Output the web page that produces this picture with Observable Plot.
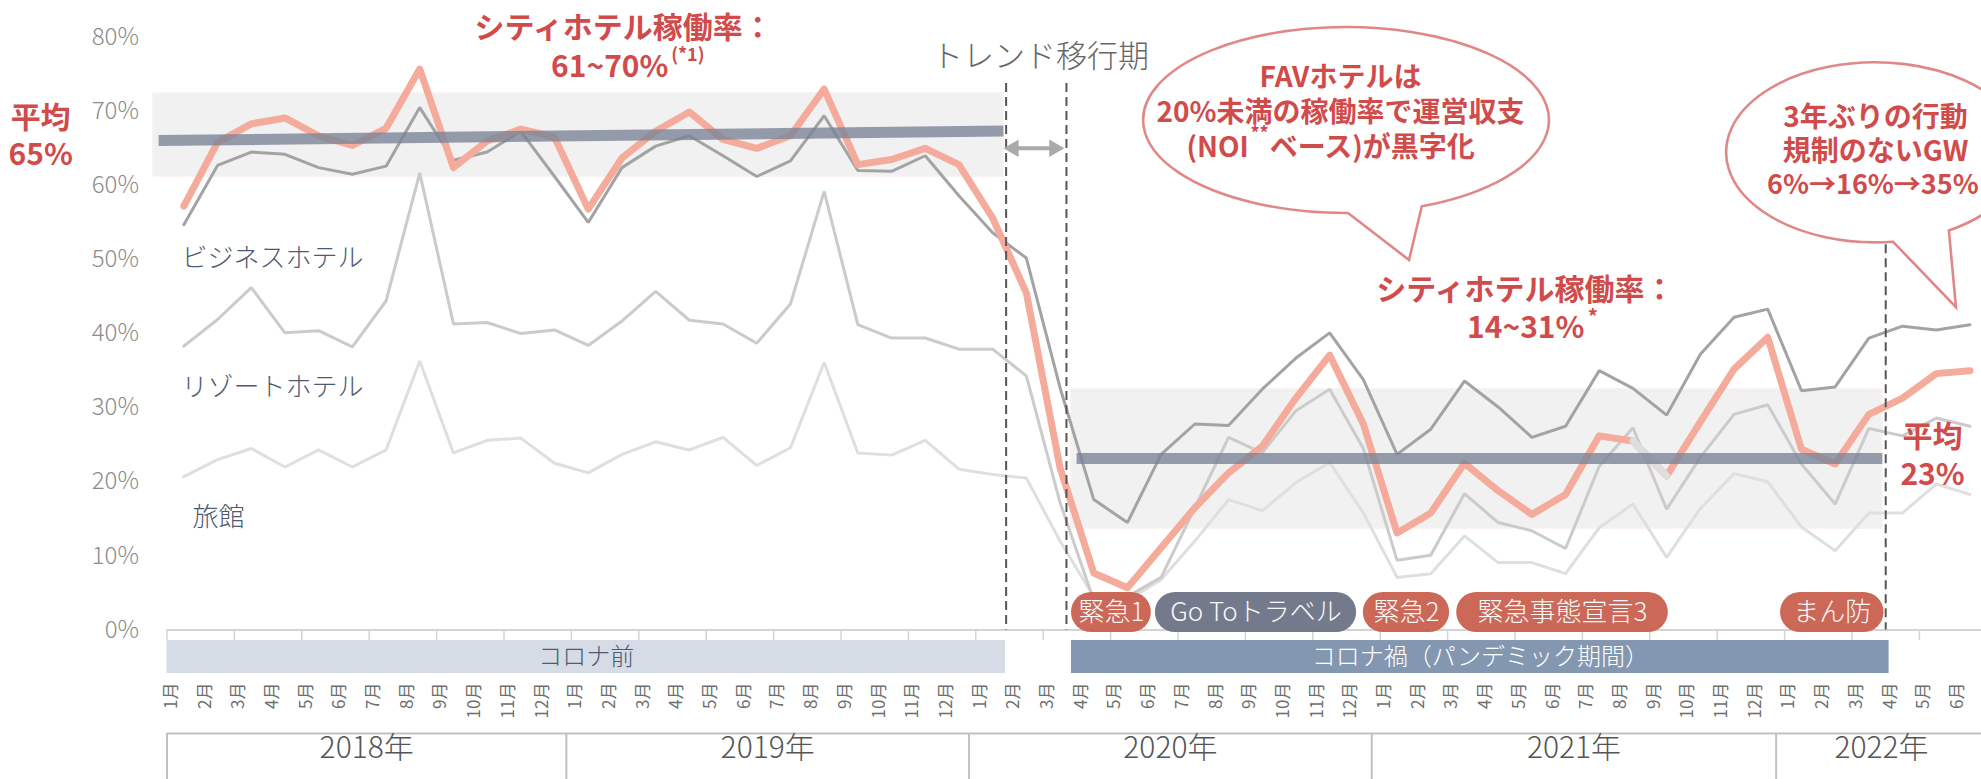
<!DOCTYPE html>
<html><head><meta charset="utf-8">
<script src="https://cdn.jsdelivr.net/npm/d3@7"></script>
<script src="https://cdn.jsdelivr.net/npm/@observablehq/plot@0.6"></script>
<style>
html,body{margin:0;padding:0;background:#fff;}
#chart svg{display:block;}
</style></head><body><div id="chart"></div>
<script>
// ---------- data ----------
const monthLabels = ["1月","2月","3月","4月","5月","6月","7月","8月","9月","10月","11月","12月",
  "1月","2月","3月","4月","5月","6月","7月","8月","9月","10月","11月","12月",
  "1月","2月","3月","4月","5月","6月","7月","8月","9月","10月","11月","12月",
  "1月","2月","3月","4月","5月","6月","7月","8月","9月","10月","11月","12月",
  "1月","2月","3月","4月","5月","6月"];
const cityHotel = [0.572,0.658,0.683,0.691,0.667,0.654,0.677,0.757,0.624,0.660,0.676,0.665,
  0.568,0.637,0.673,0.699,0.662,0.650,0.667,0.730,0.628,0.635,0.650,0.628,
  0.556,0.455,0.219,0.077,0.057,0.111,0.165,0.212,0.248,0.313,0.371,0.278,
  0.131,0.158,0.225,0.188,0.156,0.183,0.262,0.255,0.208,0.281,0.352,0.395,
  0.244,0.224,0.291,0.313,0.346,0.350];
const businessHotel = [0.547,0.627,0.645,0.642,0.624,0.615,0.626,0.705,0.634,0.645,0.673,0.612,
  0.550,0.624,0.653,0.667,0.640,0.612,0.633,0.694,0.620,0.619,0.640,0.586,
  0.536,0.502,0.327,0.176,0.145,0.237,0.278,0.276,0.325,0.367,0.401,0.338,
  0.237,0.271,0.336,0.301,0.260,0.275,0.350,0.326,0.290,0.372,0.422,0.433,
  0.323,0.328,0.394,0.410,0.405,0.412];
const resortHotel = [0.383,0.419,0.462,0.401,0.404,0.382,0.444,0.617,0.413,0.415,0.400,0.405,
  0.384,0.417,0.457,0.418,0.413,0.387,0.440,0.592,0.412,0.394,0.394,0.379,
  0.379,0.343,0.172,0.040,0.045,0.071,0.165,0.260,0.239,0.296,0.325,0.245,
  0.094,0.101,0.184,0.145,0.134,0.110,0.221,0.273,0.163,0.233,0.291,0.304,
  0.224,0.170,0.272,0.262,0.286,0.275];
const ryokan = [0.207,0.230,0.245,0.220,0.243,0.220,0.243,0.363,0.239,0.256,0.259,0.225,
  0.212,0.237,0.254,0.243,0.260,0.222,0.246,0.361,0.239,0.236,0.256,0.217,
  0.210,0.205,0.120,0.045,0.040,0.068,0.120,0.176,0.161,0.199,0.226,0.158,
  0.071,0.076,0.127,0.091,0.091,0.076,0.138,0.170,0.098,0.164,0.211,0.200,
  0.139,0.107,0.158,0.158,0.197,0.183];
const yTicks = [0,0.1,0.2,0.3,0.4,0.5,0.6,0.7,0.8];
const axisTicks = [0,2,4,6,8,10,12,14,16,18,20,22,24,26,28,30,32,34,36,38,40,42,44,46,48,50,52,54];
const yearLabels = ["2018年","2019年","2020年","2021年","2022年"];
const yearEdges = [0,11.85,23.8,35.75,47.75,54];
const seriesLabels = [
  {text:"ビジネスホテル", x:0.43, y:0.501},
  {text:"リゾートホテル", x:0.43, y:0.327},
  {text:"旅館", x:0.76, y:0.152}
];
const trendBands = [
  {x1:-0.4, x2:24.82, y1:0.612, y2:0.724},
  {x1:26.84, x2:50.9, y1:0.137, y2:0.3246}
];
const trendAvgPre = [{x:-0.25, y:0.6606},{x:24.82, y:0.6734}];
const trendAvgCovid = [{x:26.99, y:0.2315},{x:50.9, y:0.2315}];
const dividers = [{x:24.9, top:0.7375},{x:26.69, top:0.7375},{x:51.0, top:0.52}];
const transitionArrow = {x1:24.85, x2:26.6, y:0.65};
const eras = [
  {label:"コロナ前", x1:0, x2:24.88, fill:"#d6dce5", color:"#4d5a72"},
  {label:"コロナ禍（パンデミック期間）", x1:26.84, x2:51.1, fill:"#8497b0", color:"#ffffff"}
];
const events = [
  {label:"緊急1", x1:26.84, x2:29.21, fill:"#c9604e"},
  {label:"Go Toトラベル", x1:29.33, x2:35.3, fill:"#6b7386"},
  {label:"緊急2", x1:35.5, x2:38.06, fill:"#c9604e"},
  {label:"緊急事態宣言3", x1:38.27, x2:44.55, fill:"#c9604e"},
  {label:"まん防", x1:47.88, x2:50.95, fill:"#c9604e"}
];
const redLabels = [
  {text:"シティホテル稼働率：", x:13.55, y:0.812, size:30, anchor:"middle"},
  {text:"61~70%", x:14.88, y:0.759, size:30, anchor:"end"},
  {text:"(*1)", x:14.96, y:0.776, size:18, anchor:"start"},
  {text:"平均", x:-3.75, y:0.690, size:30, anchor:"middle"},
  {text:"65%", x:-3.75, y:0.640, size:30, anchor:"middle"},
  {text:"シティホテル稼働率：", x:40.31, y:0.458, size:30, anchor:"middle"},
  {text:"14~31%", x:42.06, y:0.407, size:30, anchor:"end"},
  {text:"*", x:42.16, y:0.421, size:20, anchor:"start"},
  {text:"平均", x:52.39, y:0.260, size:30, anchor:"middle"},
  {text:"23%", x:52.39, y:0.2085, size:30, anchor:"middle"}
];
const bubbles = [
  {cx:35.0, cy:0.6876, rx:6.02, ry:0.1255, baseL:35.06, baseR:37.25, tipX:36.87, tipY:0.4987},
  {cx:50.70, cy:0.644, rx:4.42, ry:0.1215, baseL:51.23, baseR:52.89, tipX:53.1, tipY:0.435}
];
const bubbleTexts = [
  {text:"FAVホテルは", x:34.82, y:0.7443, size:28, anchor:"middle"},
  {text:"20%未満の稼働率で運営収支", x:34.82, y:0.697, size:28, anchor:"middle"},
  {text:"(NOI", x:32.1, y:0.6511, size:28, anchor:"end"},
  {text:"**", x:32.42, y:0.6687, size:18, anchor:"middle"},
  {text:"ベース)が黒字化", x:32.72, y:0.6511, size:28, anchor:"start"},
  {text:"3年ぶりの行動", x:50.70, y:0.6903, size:28, anchor:"middle"},
  {text:"規制のないGW", x:50.70, y:0.6444, size:28, anchor:"middle"},
  {text:"6%→16%→35%", x:50.62, y:0.600, size:27, anchor:"middle"}
];
const trendLabel = {text:"トレンド移行期", x:25.92, y:0.7726};

// ---------- drawing ----------
const FONT = "'Noto Sans CJK JP','Noto Sans',sans-serif";
const RED = "#d14b4b";
const axisBottom = -0.0142, gridTop = -0.1397, gridBottom = -0.22;

function bubbleMark(b) {
  return (index, scales) => {
    const x = scales.x, y = scales.y;
    const cx = x(b.cx), cy = y(b.cy);
    const rx = x(b.cx + b.rx) - cx, ry = cy - y(b.cy + b.ry);
    const onE = px => cy + ry * Math.sqrt(Math.max(0, 1 - ((px - cx) / rx) ** 2));
    const ax = x(b.baseL), bx = x(b.baseR);
    const ay = onE(ax), by = onE(bx);
    const tx = x(b.tipX), ty = y(b.tipY);
    const d = `M${ax},${ay}L${tx},${ty}L${bx},${by}A${rx},${ry} 0 1 0 ${ax},${ay}Z`;
    return d3.create("svg:path").attr("d", d).attr("fill", "#fff")
      .attr("stroke", "#e08888").attr("stroke-width", 2.6).attr("stroke-linejoin", "miter").node();
  };
}

function anchoredText(rows) {
  return ["start", "middle", "end"].map(a =>
    Plot.text(rows.filter(d => d.anchor === a), {x: "x", y: "y", text: "text", fontSize: d => d.size,
      textAnchor: a, fontWeight: "bold", fill: RED}));
}

const chart = Plot.plot({
  width: 1981, height: 779,
  marginLeft: 166.5, marginRight: 0, marginTop: 36.7, marginBottom: 149.5,
  x: {type: "linear", domain: [0, 54], range: [166.5, 166.5 + 54 * 33.7], axis: null},
  y: {type: "linear", domain: [0, 0.8], range: [629.5, 36.7], axis: null},
  style: {fontFamily: FONT, background: "#fff"},
  marks: [
    // shaded trend bands
    Plot.rect(trendBands, {x1: "x1", x2: "x2", y1: "y1", y2: "y2", fill: "#f1f1f1", stroke: "#fbefec", strokeWidth: 1.5}),
    // series
    Plot.line(ryokan, {x: (d, i) => i + 0.5, y: d => d, stroke: "#dfdfdf", strokeWidth: 3, strokeLinejoin: "miter"}),
    Plot.line(resortHotel, {x: (d, i) => i + 0.5, y: d => d, stroke: "#cbcbcb", strokeWidth: 3, strokeLinejoin: "miter"}),
    Plot.line(businessHotel, {x: (d, i) => i + 0.5, y: d => d, stroke: "#a3a3a3", strokeWidth: 3, strokeLinejoin: "miter"}),
    Plot.line(cityHotel, {x: (d, i) => i + 0.5, y: d => d, stroke: "#f4ab9b", strokeWidth: 7, strokeLinejoin: "round"}),
    Plot.line(cityHotel.slice(43, 45), {x: (d, i) => i + 43.5, y: d => d, stroke: "#dedede", strokeWidth: 7}),
    // average bars
    Plot.line(trendAvgPre, {x: "x", y: "y", stroke: "rgb(121,131,150)", strokeOpacity: 0.78, strokeWidth: 11, strokeLinecap: "butt"}),
    Plot.line(trendAvgCovid, {x: "x", y: "y", stroke: "rgb(121,131,150)", strokeOpacity: 0.78, strokeWidth: 11, strokeLinecap: "butt"}),
    // x axis line and ticks
    Plot.ruleY([0], {x1: 0, x2: 54, stroke: "#d4d4d4", strokeWidth: 2}),
    Plot.ruleX(axisTicks, {x: d => d, y1: 0, y2: axisBottom, stroke: "#d4d4d4", strokeWidth: 1.5}),
    // dividers
    Plot.ruleX(dividers, {x: "x", y1: "top", y2: 0, stroke: "#555", strokeWidth: 2, strokeDasharray: "9,5"}),
    // transition arrow
    Plot.ruleY([transitionArrow], {x1: d => d.x1 + 0.2, x2: d => d.x2 - 0.2, y: "y", stroke: "#aaaaaa", strokeWidth: 4}),
    Plot.dot([transitionArrow], {x: d => d.x1 + 0.27, y: "y", symbol: "triangle", r: 6.5, fill: "#aaaaaa", rotate: -90}),
    Plot.dot([transitionArrow], {x: d => d.x2 - 0.27, y: "y", symbol: "triangle", r: 6.5, fill: "#aaaaaa", rotate: 90}),
    Plot.text([trendLabel], {x: "x", y: "y", text: "text", fontSize: 31, fontWeight: 300, fill: "#666"}),
    // eras
    Plot.rect(eras, {x1: "x1", x2: "x2", y1: -0.0587, y2: -0.0142, fill: "fill"}),
    Plot.text(eras, {x: d => (d.x1 + d.x2) / 2, y: -0.0364, text: "label", fill: "color", fontSize: 24, fontWeight: 300}),
    // events pills
    Plot.rect(events, {x1: "x1", x2: "x2", y1: -0.0034, y2: 0.0506, fill: "fill", fillOpacity: 0.95, rx: 20}),
    Plot.text(events, {x: d => (d.x1 + d.x2) / 2, y: 0.0236, text: "label", fill: "#f7f7f7", fontSize: 26, fontWeight: 300}),
    // month labels
    Plot.text(monthLabels, {x: (d, i) => i + 0.5, frameAnchor: "bottom", dy: 52.5, dx: -7, text: d => d, rotate: -90, textAnchor: "end", fontSize: 17, fill: "#6e6e6e"}),
    // year grid
    Plot.ruleY([gridTop], {x1: 0, x2: 54, stroke: "#c2c2c2", strokeWidth: 2}),
    Plot.ruleX(yearEdges.slice(0, 5), {x: d => d, y1: gridTop, y2: gridBottom, stroke: "#c2c2c2", strokeWidth: 2}),
    Plot.text(yearLabels, {x: (d, i) => (yearEdges[i] + yearEdges[i + 1]) / 2, frameAnchor: "bottom", dy: 127.5, text: d => d, fontSize: 30, fontWeight: 300, fill: "#555"}),
    // y tick labels
    Plot.text(yTicks, {y: d => d, frameAnchor: "left", textAnchor: "end", dx: -28, text: d => `${Math.round(d * 100)}%`, fontSize: 24, fontWeight: 300, fill: "#8c8c8c"}),
    // series labels
    Plot.text(seriesLabels, {x: "x", y: "y", text: "text", textAnchor: "start", fontSize: 26, fontWeight: 300, fill: "#4d5a72"}),
    // speech bubbles
    bubbleMark(bubbles[0]),
    bubbleMark(bubbles[1]),
    ...anchoredText(bubbleTexts),
    // red annotations
    ...anchoredText(redLabels)
  ]
});
document.getElementById("chart").appendChild(chart);
</script>
</body></html>
